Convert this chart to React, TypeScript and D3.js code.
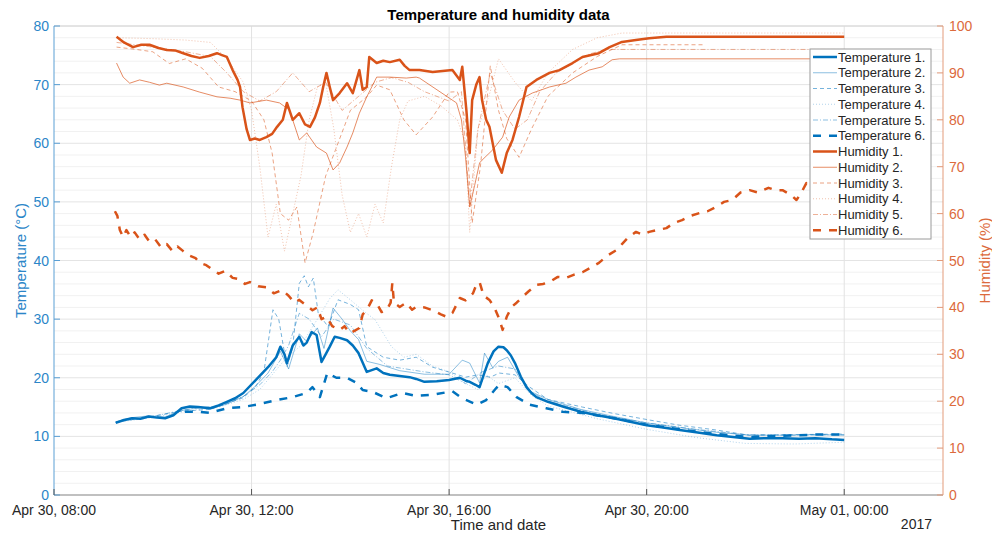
import React from 'react';
import * as d3 from 'd3';

type Pt = [string, number];

// readings, "HH:MM" on Apr 30 (24:00 = May 01 00:00)
const temperature1: Pt[] = [
	['09:15', 12.3], ['09:25', 12.8], ['09:35', 13.1], ['09:45', 13.0], ['09:55', 13.4], ['10:05', 13.2], ['10:15', 13.1],
	['10:25', 13.6], ['10:35', 14.8], ['10:45', 15.1], ['10:55', 15.0], ['11:10', 14.8], ['11:20', 15.3], ['11:30', 15.9],
	['11:40', 16.5], ['11:50', 17.4], ['12:05', 19.6], ['12:20', 21.8], ['12:30', 23.5], ['12:35', 25.3], ['12:40', 24.0],
	['12:43', 22.5], ['12:50', 25.5], ['12:58', 27.0], ['13:03', 25.5], ['13:07', 26.0], ['13:13', 27.8], ['13:19', 27.3],
	['13:25', 22.7], ['13:30', 24.0], ['13:35', 25.3], ['13:41', 27.0], ['13:47', 26.8], ['13:56', 26.4], ['14:03', 25.5],
	['14:10', 24.2], ['14:20', 21.0], ['14:26', 21.3], ['14:32', 21.6], ['14:40', 20.8], ['14:48', 20.5], ['15:00', 20.3],
	['15:12', 20.1], ['15:20', 19.8], ['15:30', 19.3], ['15:45', 19.4], ['16:00', 19.6], ['16:13', 20.0], ['16:20', 19.5],
	['16:25', 19.3], ['16:32', 18.8], ['16:37', 18.4], ['16:42', 20.5], ['16:47', 22.5], ['16:54', 24.5], ['17:00', 25.3],
	['17:06', 25.2], ['17:10', 24.7], ['17:15', 23.8], ['17:20', 22.5], ['17:27', 20.2], ['17:34', 18.4], ['17:40', 17.4],
	['17:46', 16.7], ['18:00', 15.9], ['18:20', 15.0], ['18:40', 14.2], ['19:00', 13.6], ['19:20', 13.1], ['19:40', 12.5],
	['20:00', 11.9], ['20:20', 11.5], ['20:40', 11.1], ['21:00', 10.7], ['21:25', 10.2], ['21:45', 9.9], ['22:05', 9.6],
	['22:25', 9.7], ['22:45', 9.7], ['23:05', 9.6], ['23:25', 9.7], ['23:45', 9.5], ['24:00', 9.4],
];
const temperature2: Pt[] = [
	['09:15', 12.5], ['09:35', 13.2], ['09:55', 13.5], ['10:15', 13.3], ['10:35', 14.4], ['10:55', 14.9], ['11:10', 14.7],
	['11:30', 15.5], ['11:50', 16.8], ['12:05', 18.6], ['12:20', 20.8], ['12:35', 24.5], ['12:45', 21.5], ['12:58', 27.5],
	['13:07', 26.2], ['13:20', 28.5], ['13:28', 25.0], ['13:39', 31.9], ['13:50', 30.0], ['14:00', 28.0], ['14:10', 26.5],
	['14:20', 22.8], ['14:35', 22.3], ['15:00', 21.2], ['15:30', 20.6], ['16:00', 20.6], ['16:16', 23.0], ['16:25', 22.5],
	['16:37', 19.1], ['16:43', 24.2], ['16:53', 21.7], ['17:00', 22.8], ['17:11', 23.5], ['17:25', 20.1], ['17:40', 17.6],
	['18:00', 16.3], ['18:40', 14.6], ['19:20', 13.4], ['20:00', 12.3], ['20:40', 11.5], ['21:25', 10.7], ['22:05', 10.2],
	['22:45', 10.2], ['23:25', 10.3], ['24:00', 10.2],
];
const temperature3: Pt[] = [
	['09:15', 12.4], ['09:55', 13.3], ['10:35', 14.3], ['11:10', 14.6], ['11:50', 16.6], ['12:05', 18.5], ['12:15', 21.0],
	['12:26', 31.6], ['12:33', 30.0], ['12:43', 21.8], ['12:50', 25.3], ['12:58', 36.1], ['13:04', 37.4], ['13:09', 35.5],
	['13:15', 37.0], ['13:21', 31.0], ['13:33', 28.7], ['13:45', 33.3], ['14:00', 32.5], ['14:10', 31.6], ['14:20', 25.3],
	['14:40', 23.5], ['15:00', 23.0], ['15:20', 23.5], ['15:40', 21.8], ['16:04', 20.8], ['16:20', 20.1], ['16:35', 20.5],
	['16:50', 20.1], ['17:01', 20.8], ['17:20', 20.5], ['17:38', 18.4], ['18:00', 16.3], ['18:42', 15.0], ['19:20', 13.9],
	['20:03', 12.8], ['20:40', 11.9], ['21:24', 11.1], ['22:04', 10.2], ['23:00', 10.3], ['24:00', 10.4],
];
const temperature4: Pt[] = [
	['09:15', 12.4], ['10:00', 13.2], ['10:40', 14.3], ['11:20', 15.0], ['11:50', 16.3], ['12:10', 18.0], ['12:25', 20.5],
	['12:40', 23.0], ['13:00', 25.5], ['13:20', 30.0], ['13:35', 33.5], ['13:45', 35.0], ['14:00', 33.3], ['14:15', 31.5],
	['14:30', 29.9], ['14:50', 25.3], ['15:05', 23.5], ['15:20', 24.0], ['15:40', 22.0], ['16:00', 21.0], ['16:20', 19.0],
	['16:35', 18.0], ['16:45', 20.5], ['17:00', 19.0], ['17:20', 20.0], ['17:40', 17.0], ['18:00', 15.2], ['19:00', 13.0],
	['20:00', 11.2], ['21:00', 9.8], ['22:00', 8.8], ['23:00', 8.7], ['24:00', 9.0],
];
const temperature5: Pt[] = [
	['09:15', 12.5], ['10:00', 13.4], ['10:40', 14.6], ['11:20', 15.2], ['11:50', 16.8], ['12:10', 18.8], ['12:25', 21.0],
	['12:35', 23.0], ['12:45', 25.5], ['12:58', 31.0], ['13:10', 30.0], ['13:25', 27.0], ['13:40', 30.0], ['14:00', 29.0],
	['14:20', 25.0], ['14:45', 22.0], ['15:30', 21.0], ['16:00', 20.5], ['16:20', 19.0], ['16:40', 21.0], ['17:00', 22.0],
	['17:20', 21.5], ['17:40', 17.5], ['18:00', 16.0], ['19:00', 13.8], ['20:00', 12.3], ['21:00', 11.2], ['22:00', 10.3],
	['23:00', 10.2], ['24:00', 10.3],
];
const temperature6: Pt[] = [
	['10:39', 14.2], ['10:57', 14.2], ['11:09', 14.0], ['11:30', 14.8], ['11:49', 15.0], ['12:06', 15.4], ['12:31', 16.2],
	['12:50', 16.7], ['13:07', 17.4], ['13:14', 18.4], ['13:23', 16.7], ['13:32', 20.8], ['13:43', 20.0], ['13:56', 20.0],
	['14:08', 19.1], ['14:15', 17.9], ['14:27', 17.6], ['14:44', 16.5], ['15:03', 17.4], ['15:20', 16.9], ['15:40', 17.1],
	['16:04', 17.7], ['16:16', 16.5], ['16:34', 15.4], ['16:45', 16.2], ['16:57', 18.2], ['17:01', 18.8], ['17:11', 18.4],
	['17:22', 16.7], ['17:38', 15.4], ['17:58', 14.8], ['18:18', 14.2], ['18:42', 14.0], ['19:20', 13.1], ['20:00', 12.0],
	['20:40', 11.2], ['21:25', 10.4], ['22:05', 9.9], ['22:45', 10.1], ['23:25', 10.3], ['24:00', 10.3],
];

const humidity1: Pt[] = [
	['09:16', 97.7], ['09:25', 96.5], ['09:36', 95.5], ['09:46', 96.0], ['09:56', 96.0], ['10:07', 95.3], ['10:17', 94.9],
	['10:27', 94.8], ['10:37', 94.2], ['10:47', 93.6], ['10:57', 93.2], ['11:08', 93.6], ['11:18', 94.2], ['11:24', 93.8],
	['11:30', 93.4], ['11:37', 90.6], ['11:43', 88.5], ['11:46', 87.0], ['11:49', 82.7], ['11:54', 78.0], ['11:58', 75.7],
	['12:04', 76.0], ['12:10', 75.7], ['12:18', 76.3], ['12:25', 77.0], ['12:31', 78.5], ['12:38', 80.0], ['12:43', 83.6],
	['12:50', 80.0], ['12:58', 81.4], ['13:05', 79.0], ['13:11', 78.5], ['13:17', 80.5], ['13:23', 83.6], ['13:27', 87.0],
	['13:31', 90.0], ['13:35', 87.0], ['13:39', 84.2], ['13:47', 85.7], ['13:56', 87.8], ['14:03', 85.7], ['14:11', 90.6],
	['14:15', 86.4], ['14:20', 87.0], ['14:23', 93.4], ['14:32', 92.1], ['14:40', 92.6], ['14:48', 92.3], ['15:00', 92.8],
	['15:06', 91.5], ['15:12', 90.6], ['15:24', 90.6], ['15:40', 90.2], ['16:04', 90.6], ['16:13', 88.5], ['16:16', 91.3],
	['16:21', 82.0], ['16:25', 72.9], ['16:28', 84.2], ['16:33', 87.5], ['16:37', 89.1], ['16:40', 84.2], ['16:45', 80.0],
	['16:49', 78.5], ['16:57', 71.4], ['17:04', 68.7], ['17:10', 72.9], ['17:17', 75.7], ['17:25', 80.6], ['17:34', 87.0],
	['17:46', 88.5], ['18:02', 90.0], ['18:14', 90.6], ['18:30', 92.1], ['18:42', 93.4], ['19:02', 94.2], ['19:15', 95.5],
	['19:30', 96.6], ['19:47', 97.0], ['20:03', 97.4], ['20:24', 97.7], ['24:00', 97.7],
];
const humidity2: Pt[] = [
	['09:16', 92.1], ['09:24', 89.1], ['09:32', 87.8], ['09:44', 88.5], ['09:56', 88.0], ['10:08', 87.4], ['10:17', 87.8],
	['10:37', 87.0], ['10:57', 85.9], ['11:18', 84.9], ['11:34', 84.6], ['11:46', 84.2], ['11:58', 83.6], ['12:18', 84.2],
	['12:34', 83.6], ['12:46', 82.1], ['12:58', 75.7], ['13:07', 77.2], ['13:19', 74.2], ['13:31', 72.9], ['13:39', 69.3],
	['13:47', 70.8], ['13:56', 74.2], ['14:03', 77.2], ['14:11', 81.4], ['14:20', 84.9], ['14:32', 89.1], ['14:48', 89.1],
	['15:08', 88.9], ['15:20', 89.1], ['15:24', 88.9], ['16:09', 83.6], ['16:15', 80.0], ['16:20', 72.0], ['16:25', 61.4],
	['16:31', 66.0], ['16:37', 70.8], ['16:40', 71.4], ['16:53', 73.6], ['17:05', 76.3], ['17:13', 80.6], ['17:25', 84.2],
	['17:41', 85.7], ['18:02', 87.0], ['18:22', 87.8], ['18:34', 89.1], ['18:50', 90.6], ['19:06', 91.3], ['19:18', 92.8],
	['19:27', 93.0], ['24:00', 93.0],
];
const humidity3: Pt[] = [
	['09:16', 95.5], ['09:40', 95.0], ['10:00', 94.5], ['10:20', 92.0], ['10:40', 93.0], ['11:00', 91.0], ['11:20', 87.0],
	['11:40', 86.0], ['12:00', 84.0], ['12:15', 80.0], ['12:25', 72.9], ['12:35', 60.0], ['12:45', 58.6], ['12:55', 61.4],
	['13:05', 49.5], ['13:15', 56.0], ['13:30', 68.0], ['13:45', 75.0], ['14:00', 82.0], ['14:20', 84.9], ['14:32', 87.4],
	['14:48', 86.4], ['15:05', 80.0], ['15:20', 76.8], ['15:40', 80.6], ['16:00', 85.9], ['16:10', 86.0], ['16:20', 80.0],
	['16:28', 58.0], ['16:38', 70.0], ['16:50', 91.5], ['17:00', 82.0], ['17:10', 76.0], ['17:25', 72.0], ['17:40', 78.0],
	['18:00', 85.0], ['18:30', 90.0], ['19:00', 93.5], ['19:30', 96.0], ['21:10', 96.0],
];
const humidity4: Pt[] = [
	['09:16', 97.5], ['10:00', 97.3], ['10:40', 97.0], ['11:10', 96.5], ['11:30', 93.0], ['11:50', 88.0], ['12:00', 82.0],
	['12:10', 70.0], ['12:20', 55.0], ['12:30', 62.0], ['12:40', 52.0], ['12:50', 60.0], ['13:00', 68.0], ['13:10', 80.0],
	['13:20', 87.0], ['13:30', 88.0], ['13:40', 78.0], ['13:50', 64.0], ['14:00', 56.0], ['14:10', 60.0], ['14:20', 55.0],
	['14:30', 62.0], ['14:40', 58.0], ['14:50', 70.0], ['15:00', 80.0], ['15:10', 84.0], ['15:30', 85.0], ['15:50', 83.0],
	['16:10', 80.0], ['16:20', 75.0], ['16:25', 56.0], ['16:35', 78.0], ['16:50', 86.0], ['17:00', 93.0], ['17:20', 88.0],
	['17:40', 84.0], ['18:00', 90.0], ['18:30', 95.0], ['19:00', 97.5], ['19:30', 98.5], ['24:00', 98.5],
];
const humidity5: Pt[] = [
	['09:16', 96.5], ['10:00', 95.5], ['10:40', 94.5], ['11:10', 93.5], ['11:30', 90.0], ['11:50', 86.0], ['12:10', 84.0],
	['12:30', 86.0], ['12:50', 90.0], ['13:10', 86.0], ['13:30', 88.0], ['13:50', 82.0], ['14:10', 85.0], ['14:30', 88.0],
	['14:50', 89.0], ['15:10', 88.0], ['15:30', 86.0], ['16:00', 84.0], ['16:15', 86.0], ['16:25', 62.0], ['16:35', 78.0],
	['16:50', 90.0], ['17:05', 82.0], ['17:20', 78.0], ['17:35', 80.0], ['17:50', 86.0], ['18:10', 90.0], ['18:30', 92.0],
	['18:50', 94.0], ['19:10', 95.0], ['24:00', 95.0],
];
const humidity6: Pt[] = [
	['09:14', 60.5], ['09:17', 59.5], ['09:20', 56.5], ['09:24', 55.0], ['09:28', 56.5], ['09:33', 55.0], ['09:38', 56.0],
	['09:44', 54.5], ['09:50', 55.5], ['09:56', 54.0], ['10:03', 54.5], ['10:10', 52.8], ['10:17', 53.5], ['10:24', 52.0],
	['10:30', 53.0], ['10:37', 52.0], ['10:45', 51.0], ['10:52', 50.5], ['10:57', 49.5], ['11:05', 49.0], ['11:13', 48.0],
	['11:20', 47.2], ['11:28', 47.8], ['11:37', 46.3], ['11:45', 46.0], ['11:52', 45.0], ['11:58', 45.4], ['12:08', 44.5],
	['12:18', 44.3], ['12:27', 43.0], ['12:37', 43.7], ['12:45', 42.5], ['12:52', 41.0], ['12:58', 41.6], ['13:06', 40.5],
	['13:14', 39.4], ['13:20', 40.0], ['13:25', 37.5], ['13:31', 38.0], ['13:38', 36.0], ['13:47', 35.2], ['13:53', 36.0],
	['13:59', 34.5], ['14:05', 35.0], ['14:11', 35.6], ['14:15', 38.5], ['14:20', 39.4], ['14:26', 41.5], ['14:32', 40.9],
	['14:38', 39.0], ['14:44', 39.4], ['14:49', 41.0], ['14:51', 45.2], ['14:53', 41.0], ['15:00', 40.1], ['15:08', 41.0],
	['15:15', 39.5], ['15:20', 40.1], ['15:30', 40.0], ['15:40', 39.4], ['15:50', 38.5], ['15:57', 38.0], ['16:04', 38.8],
	['16:13', 42.0], ['16:20', 41.5], ['16:29', 43.0], ['16:33', 44.8], ['16:37', 45.4], ['16:42', 42.5], ['16:49', 41.6],
	['16:55', 40.0], ['17:01', 37.5], ['17:05', 35.2], ['17:10', 38.0], ['17:16', 40.1], ['17:22', 41.0], ['17:29', 42.2],
	['17:37', 43.5], ['17:46', 44.8], ['17:54', 45.0], ['18:02', 45.4], ['18:12', 46.5], ['18:22', 46.3], ['18:32', 47.0],
	['18:42', 47.5], ['18:52', 48.5], ['19:02', 49.5], ['19:12', 51.0], ['19:23', 52.2], ['19:30', 53.5], ['19:38', 55.0],
	['19:47', 56.1], ['19:55', 55.5], ['20:03', 56.1], ['20:13', 56.5], ['20:24', 56.9], ['20:33', 58.0], ['20:43', 58.6],
	['20:53', 59.5], ['21:04', 60.1], ['21:14', 60.5], ['21:24', 61.4], ['21:34', 62.5], ['21:44', 62.9], ['21:54', 64.5],
	['22:05', 65.0], ['22:15', 64.5], ['22:28', 65.5], ['22:36', 65.0], ['22:45', 65.0], ['22:55', 64.0], ['23:02', 62.9],
	['23:08', 64.5], ['23:14', 66.5], ['23:22', 65.0], ['23:30', 64.0], ['23:40', 66.0], ['23:50', 67.2], ['24:00', 67.5],
];

const xTicks = ['08:00', '12:00', '16:00', '20:00', '24:00'];
const tempTicks = [0, 10, 20, 30, 40, 50, 60, 70, 80];
const humTicks = [0, 10, 20, 30, 40, 50, 60, 70, 80, 90, 100];

const BLUE = '#0072BD';
const ORANGE = '#D95319';
const FONT = '"Liberation Sans", Arial, Helvetica, sans-serif';

const series = [
	{ name: 'Temperature 1.', data: temperature1, axis: 'T', color: BLUE, width: 2.5, dash: null, opacity: 1 },
	{ name: 'Temperature 2.', data: temperature2, axis: 'T', color: BLUE, width: 0.9, dash: null, opacity: 0.5 },
	{ name: 'Temperature 3.', data: temperature3, axis: 'T', color: BLUE, width: 0.9, dash: '4,3', opacity: 0.6 },
	{ name: 'Temperature 4.', data: temperature4, axis: 'T', color: BLUE, width: 0.9, dash: '1,2', opacity: 0.35 },
	{ name: 'Temperature 5.', data: temperature5, axis: 'T', color: BLUE, width: 0.9, dash: '5,2,1,2', opacity: 0.5 },
	{ name: 'Temperature 6.', data: temperature6, axis: 'T', color: BLUE, width: 2.5, dash: '8,8', opacity: 1 },
	{ name: 'Humidity 1.', data: humidity1, axis: 'H', color: ORANGE, width: 2.5, dash: null, opacity: 1 },
	{ name: 'Humidity 2.', data: humidity2, axis: 'H', color: ORANGE, width: 0.9, dash: null, opacity: 0.75 },
	{ name: 'Humidity 3.', data: humidity3, axis: 'H', color: ORANGE, width: 0.9, dash: '4,3', opacity: 0.6 },
	{ name: 'Humidity 4.', data: humidity4, axis: 'H', color: ORANGE, width: 0.9, dash: '1,2', opacity: 0.4 },
	{ name: 'Humidity 5.', data: humidity5, axis: 'H', color: ORANGE, width: 0.9, dash: '5,2,1,2', opacity: 0.5 },
	{ name: 'Humidity 6.', data: humidity6, axis: 'H', color: ORANGE, width: 2.5, dash: '8,8', opacity: 1 },
];

const parseTime = (s: string) => {
	const [hh, mm] = s.split(':').map(Number);
	return new Date(2017, 3, 30, hh, mm);
};

const left = 54, right = 943, top = 26, bottom = 495;

const x = d3.scaleTime().domain([new Date(2017, 3, 30, 8), new Date(2017, 4, 1, 2)]).range([left, right]);
const yT = d3.scaleLinear().domain([0, 80]).range([bottom, top]);
const yH = d3.scaleLinear().domain([0, 100]).range([bottom, top]);
const fmt = d3.timeFormat('%b %d, %H:%M');

const App = () => {
	const minor = d3.range(0, 81, 2);
	return (
		<svg width={992} height={537} style={{ display: 'block', position: 'absolute', left: 0, top: 0 }} fontFamily={FONT}>
			<rect width={992} height={537} fill="#fff" />
			{/* grid */}
			{minor.map((v) => (
				<line key={'m' + v} x1={left} x2={right} y1={yT(v)} y2={yT(v)} stroke={v % 10 === 0 ? '#e4e4e4' : '#f1f1f1'} strokeWidth={1} />
			))}
			{xTicks.slice(1).map((t) => (
				<line key={'g' + t} x1={x(parseTime(t))} x2={x(parseTime(t))} y1={top} y2={bottom} stroke="#e2e2e2" strokeWidth={1} />
			))}
			{/* series */}
			{series.map((s) => {
				const y = s.axis === 'T' ? yT : yH;
				const line = d3.line<Pt>().x((d) => x(parseTime(d[0]))).y((d) => y(d[1]));
				return (
					<path key={s.name} d={line(s.data) || ''} fill="none" stroke={s.color} strokeWidth={s.width}
						strokeDasharray={s.dash || undefined} strokeOpacity={s.opacity} strokeLinejoin="round" />
				);
			})}
			{/* axes */}
			<line x1={left} x2={right} y1={top} y2={top} stroke="#d6d6d6" />
			<line x1={left} x2={right} y1={bottom} y2={bottom} stroke="#8f8f8f" />
			<line x1={left} x2={left} y1={top} y2={bottom} stroke="#5a9fd4" />
			<line x1={right} x2={right} y1={top} y2={bottom} stroke="#e39b7b" />
			{tempTicks.map((v) => (
				<g key={'lt' + v}>
					<line x1={left} x2={left + 6} y1={yT(v)} y2={yT(v)} stroke="#5a9fd4" />
					<text x={left - 5} y={yT(v)} textAnchor="end" dominantBaseline="central" fontSize={14} fill="#2b86c8">{v}</text>
				</g>
			))}
			{humTicks.map((v) => (
				<g key={'rt' + v}>
					<line x1={right - 6} x2={right} y1={yH(v)} y2={yH(v)} stroke="#e39b7b" />
					<text x={right + 6} y={yH(v)} textAnchor="start" dominantBaseline="central" fontSize={14} fill="#dc6a3c">{v}</text>
				</g>
			))}
			{xTicks.map((t) => (
				<g key={'xt' + t}>
					<line x1={x(parseTime(t))} x2={x(parseTime(t))} y1={bottom} y2={bottom - 6} stroke="#555" />
					<text x={x(parseTime(t))} y={510} textAnchor="middle" dominantBaseline="central" fontSize={14} fill="#262626">{fmt(parseTime(t))}</text>
				</g>
			))}
			<text x={(left + right) / 2} y={14} textAnchor="middle" dominantBaseline="central" fontSize={15} fontWeight="bold" fill="#000">Temperature and humidity data</text>
			<text x={(left + right) / 2} y={524} textAnchor="middle" dominantBaseline="central" fontSize={15} fill="#262626">Time and date</text>
			<text x={932} y={524} textAnchor="end" dominantBaseline="central" fontSize={14} fill="#262626">2017</text>
			<text transform={`translate(20,${(top + bottom) / 2}) rotate(-90)`} textAnchor="middle" dominantBaseline="central" fontSize={15} fill="#2b86c8">Temperature (°C)</text>
			<text transform={`translate(984,${(top + bottom) / 2}) rotate(-90)`} textAnchor="middle" dominantBaseline="central" fontSize={15} fill="#dc6a3c">Humidity (%)</text>
			{/* legend */}
			<rect x={810} y={49} width={121} height={190} fill="#fff" stroke="#9a9a9a" />
			{series.map((s, i) => {
				const cy = 57 + i * 15.75;
				return (
					<g key={'lg' + s.name}>
						<line x1={813} x2={837} y1={cy} y2={cy} stroke={s.color} strokeWidth={s.width}
							strokeDasharray={s.dash || undefined} strokeOpacity={s.opacity} />
						<text x={838} y={cy} dominantBaseline="central" fontSize={13} fill="#262626">{s.name}</text>
					</g>
				);
			})}
		</svg>
	);
};

export default App;
